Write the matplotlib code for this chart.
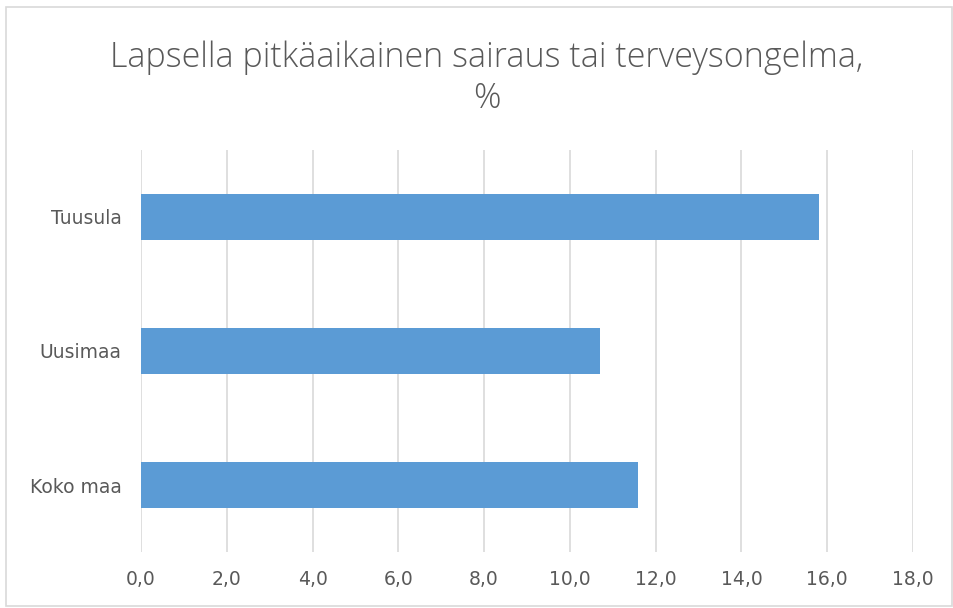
import matplotlib.pyplot as plt
from matplotlib.patches import Rectangle

categories = ['Tuusula', 'Uusimaa', 'Koko maa']
values = [15.8, 10.7, 11.6]
xticks = [0, 2, 4, 6, 8, 10, 12, 14, 16, 18]
title = 'Lapsella pitkäaikainen sairaus tai terveysongelma,\n%'

grey = '#595959'

fig = plt.figure(figsize=(9.54, 6.08), dpi=100)
ax = fig.add_axes([0.1478, 0.0921, 0.8092, 0.6612])

ypos = range(len(categories))
ax.barh(ypos, values, height=0.345, color='#5b9bd5', zorder=3)
ax.set_ylim(len(categories) - 0.5, -0.5)
ax.set_xlim(0, 18)
ax.set_yticks(list(ypos))
ax.set_yticklabels(categories)
ax.set_xticks(xticks)
ax.set_xticklabels([('%.1f' % t).replace('.', ',') for t in xticks])
ax.tick_params(length=0, labelsize=13.5, colors=grey, pad=13)
ax.tick_params(axis='y', pad=14)
ax.grid(axis='x', color='#d9d9d9', linewidth=1.2, zorder=0)
for s in ax.spines.values():
    s.set_visible(False)

fig.text(0.51, 0.872, title, ha='center', va='center', fontsize=24.5,
         color=grey, linespacing=1.25, family='Open Sans', fontweight='light')

fig.patches.append(Rectangle((6 / 954, 2 / 608), 946 / 954, 599 / 608,
                             transform=fig.transFigure, fill=False,
                             edgecolor='#d9d9d9', linewidth=1.2))

plt.savefig('out.png')
